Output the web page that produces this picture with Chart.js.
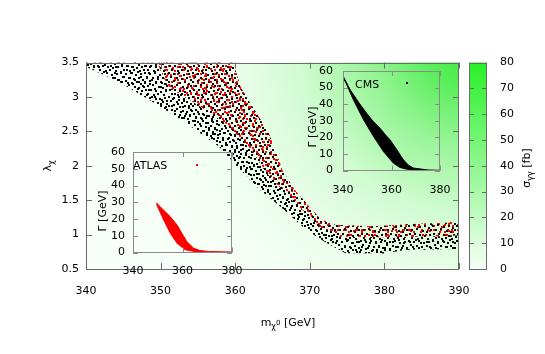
<!DOCTYPE html>
<html>
<head>
<meta charset="utf-8">
<script src="https://cdn.jsdelivr.net/npm/chart.js@4.4.0/dist/chart.umd.min.js"></script>
<style>
html, body { margin: 0; padding: 0; background: #fff; }
#wrap { position: relative; width: 545px; height: 354px; }
#wrap canvas { position: absolute; left: 0; top: 0; }
</style>
</head>
<body>
<div id="wrap">
<canvas id="main" width="545" height="354"></canvas>
<canvas id="cbar" width="545" height="354"></canvas>
<canvas id="atlas" width="545" height="354"></canvas>
<canvas id="cms" width="545" height="354"></canvas>
</div>
<script>
// main scan: outer edges of the allowed (m, lambda) band
var bandTopM = [340, 359.7, 360.8, 361.9, 363.3, 364.6, 366.4, 368.2, 370, 371.5, 373.5, 378.5, 383, 390];
var bandTopL = [3.5, 3.5, 3.13, 2.93, 2.69, 2.45, 1.92, 1.62, 1.40, 1.22, 1.14, 1.12, 1.15, 1.18];
var bandBotM = [340, 344.4, 348.9, 353.4, 357.8, 360.6, 363.3, 366, 369.5, 372.2, 374.8, 380, 383, 390];
var bandBotL = [3.44, 3.22, 2.93, 2.62, 2.28, 1.95, 1.65, 1.41, 1.07, 0.88, 0.73, 0.73, 0.78, 0.79];
// lower edge of the part that also fits ATLAS (red)
var redBotM = [349.5, 351, 355.3, 358.9, 362, 364.2, 366.9, 369.5, 371.8, 374, 380, 390];
var redBotL = [3.5, 3.15, 2.86, 2.6, 2.25, 1.9, 1.57, 1.31, 1.07, 0.97, 0.96, 0.98];

// insets: width Gamma vs mass
var atlasTopM = [349.5, 350.5, 351.7, 355.1, 357.8, 359.8, 361.8, 364.5, 367, 370.5, 380];
var atlasTopG = [29.7, 28, 26.3, 21.3, 16.4, 11.4, 6.4, 2.6, 1.2, 0.6, 0.3];
var atlasBotM = [349.5, 350.5, 352.4, 355.1, 357.8, 361.1, 365.9, 370, 380];
var atlasBotG = [28.8, 25.5, 19.4, 11.4, 5.5, 1.6, 0.3, 0, 0];
var cmsTopM = [340, 343, 346.5, 349.7, 352.5, 355.3, 357.5, 359.4, 362.2, 364.9, 367, 369, 375, 380];
var cmsTopG = [57, 48.6, 41, 34.6, 29.5, 25.5, 21.5, 18.5, 12.5, 6.5, 3.2, 1.5, 0.3, 0.1];
var cmsBotM = [340, 341, 344.3, 348.5, 352.6, 356.7, 360.8, 363.5, 366.3, 372.5, 380];
var cmsBotG = [55, 53.5, 42.6, 30.5, 20.5, 11.4, 4.4, 1.8, 0.8, 0.1, 0];

// tick labels
var massTicks = [340, 350, 360, 370, 380, 390];
var lamTicks = [0.5, 1, 1.5, 2, 2.5, 3, 3.5];
var insetMassTicks = [340, 360, 380];
var gammaTicks = [0, 10, 20, 30, 40, 50, 60];
var sigmaTicks = [0, 10, 20, 30, 40, 50, 60, 70, 80];

var FONT = 'DejaVu Sans';
Chart.defaults.font.family = FONT;
Chart.defaults.font.size = 11;
Chart.defaults.color = '#000';

function pts(ms, vs) {
    var out = [];
    for (var i = 0; i < ms.length; i++) {
        out.push({x: ms[i], y: vs[i]});
    }
    return out;
}

// closed shape: top edge forward, bottom edge backward
function band(tm, tv, bm, bv) {
    return pts(tm, tv).concat(pts(bm, bv).reverse());
}

function dotPattern(color, dots, size) {
    var c = document.createElement('canvas');
    c.width = size;
    c.height = size;
    var g = c.getContext('2d');
    g.fillStyle = color;
    dots.forEach(function(d) { g.fillRect(d[0], d[1], 2, 2); });
    return g.createPattern(c, 'repeat');
}

// tiles of different size so the dots don't line up in a grid
var blackDotsA = [[0,0],[5,1],[10,0],[15,2],[20,1],[2,4],[8,5],[13,6],[18,5],[22,7],
    [0,9],[5,8],[11,10],[16,9],[20,11],[3,13],[8,12],[14,14],[18,15],[22,13],
    [1,17],[6,17],[11,18],[16,19],[21,18],[3,21],[9,22],[13,21],[19,22]];
var blackDotsB = [[1,3],[7,1],[12,4],[4,8],[10,9],[15,11],[2,13],[8,14],[13,15]];
var redDotsA = [[2,2],[12,3],[21,4],[6,7],[16,7],[9,10],[1,13],[19,13],[12,15],
    [4,19],[14,18],[22,21],[6,22]];
var redDotsB = [[3,1],[11,2],[16,8],[7,6],[1,11],[12,12],[6,16],[15,16]];
var redDotsC = [[2,3],[8,1],[5,8],[10,10]];

function ticksFrom(arr) {
    return function(scale) {
        scale.ticks = arr.map(function(v) { return {value: v}; });
    };
}

function drawParts(ctx, parts, x, y, rot, align) {
    ctx.save();
    ctx.translate(x, y);
    if (rot) ctx.rotate(rot);
    var w = 0;
    parts.forEach(function(p) {
        ctx.font = (p.s || 11) + 'px "' + FONT + '"';
        w += ctx.measureText(p.t).width;
    });
    var cx = align === 'left' ? 0 : -w / 2;
    ctx.fillStyle = '#000';
    ctx.textBaseline = 'alphabetic';
    ctx.textAlign = 'left';
    parts.forEach(function(p) {
        ctx.font = (p.s || 11) + 'px "' + FONT + '"';
        ctx.fillText(p.t, cx, 4 + (p.dy || 0));
        cx += ctx.measureText(p.t).width;
    });
    ctx.restore();
}

// gnuplot style: ticks pointing inwards on all four sides
var frame = {
    id: 'frame',
    afterDatasetsDraw: function(chart, args, o) {
        var ctx = chart.ctx, a = chart.chartArea;
        var len = o.len;
        ctx.save();
        ctx.strokeStyle = o.color;
        ctx.lineWidth = 1;
        ctx.beginPath();
        var xs = chart.scales.x, ys = chart.scales.y;
        if (xs && xs.options.display) {
            xs.ticks.forEach(function(t) {
                var px = Math.round(xs.getPixelForValue(t.value)) + 0.5;
                ctx.moveTo(px, a.bottom); ctx.lineTo(px, a.bottom - len);
                ctx.moveTo(px, a.top); ctx.lineTo(px, a.top + len);
            });
        }
        ys.ticks.forEach(function(t) {
            var py = Math.round(ys.getPixelForValue(t.value)) + 0.5;
            ctx.moveTo(a.left, py); ctx.lineTo(a.left + len, py);
            ctx.moveTo(a.right, py); ctx.lineTo(a.right - len, py);
        });
        ctx.stroke();
        ctx.strokeRect(Math.round(a.left) + 0.5, Math.round(a.top) + 0.5,
            Math.round(a.right - a.left) - 1, Math.round(a.bottom - a.top) - 1);
        ctx.restore();
    }
};

var notes = {
    id: 'notes',
    afterDraw: function(chart, args, o) {
        var ctx = chart.ctx;
        (o.items || []).forEach(function(it) {
            if (it.dot) {
                ctx.fillStyle = it.dot;
                ctx.fillRect(it.x, it.y, 2, 2);
            } else {
                drawParts(ctx, it.parts, it.x, it.y, it.rot, it.align);
            }
        });
    }
};

var backdrop = {
    id: 'backdrop',
    beforeDatasetsDraw: function(chart, args, o) {
        if (!o.kind) return;
        var ctx = chart.ctx, a = chart.chartArea, g;
        if (o.kind === 'radial') {
            g = ctx.createRadialGradient(470, 42, 0, 470, 42, 340);
            g.addColorStop(0, 'rgb(55,234,55)');
            g.addColorStop(0.12, 'rgb(85,238,85)');
            g.addColorStop(0.3, 'rgb(150,245,150)');
            g.addColorStop(0.5, 'rgb(208,251,208)');
            g.addColorStop(0.7, 'rgb(235,254,235)');
            g.addColorStop(1, 'rgb(248,255,248)');
        } else {
            g = ctx.createLinearGradient(0, a.bottom, 0, a.top);
            g.addColorStop(0, 'rgb(246,255,246)');
            g.addColorStop(1, 'rgb(40,240,40)');
        }
        ctx.save();
        ctx.fillStyle = g;
        ctx.fillRect(a.left, a.top, a.right - a.left, a.bottom - a.top);
        ctx.restore();
    }
};

// place the plot area at [left, top, right, bottom] on the 545x354 page
function boxPadding(box, yw, xh) {
    return {left: box[0] - yw, top: box[1], right: 545 - box[2], bottom: 354 - box[3] - xh};
}

function axis(min, max, ticks, pad, fit) {
    return {
        type: 'linear', min: min, max: max,
        afterBuildTicks: ticksFrom(ticks),
        afterFit: fit,
        grid: {display: false, drawTicks: false},
        border: {display: false},
        ticks: {padding: pad, autoSkip: false, maxRotation: 0,
            callback: function(v) { return String(v); }}
    };
}

function baseOptions(box, yw, xh) {
    return {
        responsive: false, animation: false, devicePixelRatio: 1,
        layout: {padding: boxPadding(box, yw, xh)},
        plugins: {legend: {display: false}, tooltip: {enabled: false}}
    };
}

function fillSet(data, bg) {
    return {data: data, showLine: true, fill: 'shape', backgroundColor: bg,
        borderWidth: 0, pointRadius: 0};
}

// ---- main plot
var mainOpts = baseOptions([86, 62.5, 459, 269], 60, 50);
mainOpts.scales = {
    x: axis(340, 390, massTicks, 16, function(s) { s.height = 50; }),
    y: axis(0.5, 3.5, lamTicks, 7, function(s) { s.width = 60; })
};
mainOpts.plugins.backdrop = {kind: 'radial'};
mainOpts.plugins.frame = {color: '#6a6a6a', len: 6};
mainOpts.plugins.notes = {items: [
    {parts: [{t: 'λ'}, {t: 'χ', s: 8, dy: 3}], x: 47, y: 166, rot: -Math.PI / 2},
    {parts: [{t: 'm'}, {t: 'χ', s: 8, dy: 3}, {t: '0', s: 7, dy: -1}, {t: ' [GeV]'}], x: 288, y: 322}
]};
var wholeBand = band(bandTopM, bandTopL, bandBotM, bandBotL);
var blackOnly = band([340].concat(redBotM), [3.5].concat(redBotL), bandBotM, bandBotL);
var redBand = band(bandTopM.slice(1), bandTopL.slice(1), redBotM, redBotL);
new Chart(document.getElementById('main'), {
    type: 'scatter',
    data: {datasets: [
        fillSet(wholeBand, dotPattern('#000', blackDotsA, 24)),
        fillSet(blackOnly, dotPattern('#000', blackDotsB, 17)),
        fillSet(redBand, dotPattern('#ff0000', redDotsA, 24)),
        fillSet(redBand, dotPattern('#ff0000', redDotsB, 19)),
        fillSet(redBand, dotPattern('#ff0000', redDotsC, 13))
    ]},
    options: mainOpts,
    plugins: [backdrop, frame, notes]
});

// ---- colour bar
var cbOpts = baseOptions([469, 62.5, 487, 269], 0, 0);
cbOpts.layout.padding.right = 0;
cbOpts.scales = {
    x: {type: 'linear', display: false, min: 0, max: 1},
    y: Object.assign(axis(0, 80, sigmaTicks, 13, function(s) { s.width = 58; }), {position: 'right'})
};
cbOpts.plugins.backdrop = {kind: 'bar'};
cbOpts.plugins.frame = {color: '#6a6a6a', len: 5};
cbOpts.plugins.notes = {items: [
    {parts: [{t: 'σ'}, {t: 'γγ', s: 8, dy: 3}, {t: ' [fb]'}], x: 526, y: 168, rot: -Math.PI / 2}
]};
new Chart(document.getElementById('cbar'), {
    type: 'scatter',
    data: {datasets: []},
    options: cbOpts,
    plugins: [backdrop, frame, notes]
});

// ---- insets
function inset(id, box, color, top, bot, label, keyDot, titleY, yPad, xPad) {
    var o = baseOptions(box, 40, 30);
    o.scales = {
        x: axis(340, 380, insetMassTicks, xPad, function(s) { s.height = 30; }),
        y: axis(0, 60, gammaTicks, yPad, function(s) { s.width = 40; })
    };
    o.plugins.frame = {color: '#8a8a8a', len: 5};
    o.plugins.notes = {items: [
        {parts: [{t: 'Γ [GeV]'}], x: box[0] - 31, y: titleY, rot: -Math.PI / 2},
        {parts: [{t: label}], x: box[0] + (label === 'CMS' ? 12 : 0), y: box[1] + 13, align: 'left'},
        {dot: color, x: keyDot[0], y: keyDot[1]}
    ]};
    new Chart(document.getElementById(id), {
        type: 'scatter',
        data: {datasets: [
            {data: band(top[0], top[1], bot[0], bot[1]), showLine: true, fill: 'shape',
                backgroundColor: color, borderColor: color, borderWidth: 1, pointRadius: 0}
        ]},
        options: o,
        plugins: [frame, notes]
    });
}

inset('atlas', [133, 152, 232, 252.5], '#ff0000', [atlasTopM, atlasTopG], [atlasBotM, atlasBotG],
    'ATLAS', [196, 164], 211, 8, 12);
inset('cms', [343, 71, 440, 170.5], '#000000', [cmsTopM, cmsTopG], [cmsBotM, cmsBotG],
    'CMS', [406, 82], 127, 10, 13);
</script>
</body>
</html>
